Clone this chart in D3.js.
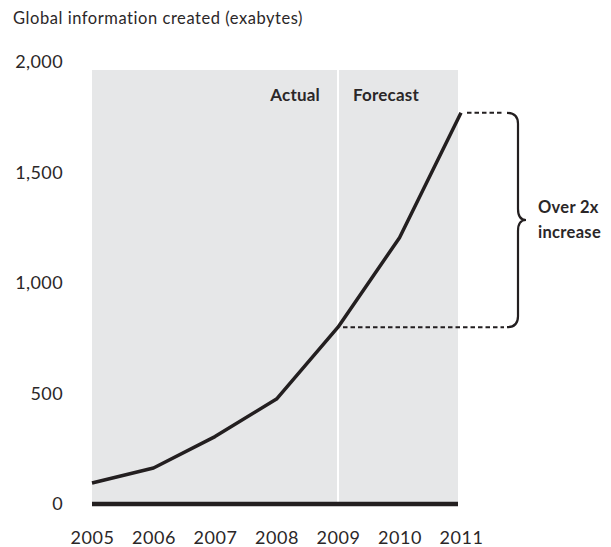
<!DOCTYPE html>
<html>
<head>
<meta charset="utf-8">
<script src="https://cdn.jsdelivr.net/npm/d3@7"></script>
<style>
  html, body { margin: 0; padding: 0; background: #fff; }
  svg { display: block; }
  text { font-family: Lato, "Open Sans", sans-serif; fill: #2b2728; }
</style>
</head>
<body>
<svg id="chart" width="611" height="547"></svg>
<script>
// Global information created, exabytes (2005–2008 actual, 2009–2011 forecast)
const years = [2005, 2006, 2007, 2008, 2009, 2010, 2011];
const exabytes = [95, 163, 305, 475, 800, 1205, 1770];
const yTicks = [0, 500, 1000, 1500, 2000];
const title = "Global information created (exabytes)";
const phaseLabels = ["Actual", "Forecast"];
const forecastStart = 2009;
const noteLines = ["Over 2x", "increase"];

const ink = "#231f20";
const textInk = "#2b2728";
const svg = d3.select("#chart");

const x = d3.scalePoint().domain(years).range([92, 461]);
const y = d3.scaleLinear().domain([0, 2000]).range([504, 62]);

// Title
svg.append("text")
  .attr("x", 13).attr("y", 24)
  .attr("font-size", 16.5)
  .attr("letter-spacing", 0.55)
  .text(title);

// Shaded plot region
const shadeTop = 70;
svg.append("rect")
  .attr("x", x(2005)).attr("y", shadeTop)
  .attr("width", x(2011) - 3 - x(2005))
  .attr("height", y(0) - shadeTop)
  .attr("fill", "#e6e7e8");

// Divider between actual and forecast
svg.append("line")
  .attr("x1", x(forecastStart)).attr("x2", x(forecastStart))
  .attr("y1", shadeTop).attr("y2", y(0))
  .attr("stroke", "#fff").attr("stroke-width", 2);

svg.append("text")
  .attr("x", x(forecastStart) - 18).attr("y", 101)
  .attr("text-anchor", "end")
  .attr("font-size", 17).attr("font-weight", 700)
  .attr("letter-spacing", 0.2)
  .text(phaseLabels[0]);
svg.append("text")
  .attr("x", x(forecastStart) + 15).attr("y", 101)
  .attr("font-size", 17).attr("font-weight", 700)
  .attr("letter-spacing", 0.2)
  .text(phaseLabels[1]);

// Y axis (labels only)
const yAxis = d3.axisLeft(y).tickValues(yTicks)
  .tickFormat(d3.format(",")).tickSize(0).tickPadding(0);
svg.append("g")
  .attr("transform", "translate(63,0)")
  .call(yAxis)
  .call(g => g.select(".domain").remove())
  .call(g => g.selectAll("text")
    .attr("font-size", 18)
    .attr("letter-spacing", 0.4)
    .attr("font-family", "Lato, 'Open Sans', sans-serif")
    .attr("fill", textInk));

// X axis (labels only)
const xAxis = d3.axisBottom(x).tickSize(0).tickPadding(0).tickFormat(d3.format("d"));
svg.append("g")
  .attr("transform", "translate(0,531)")
  .call(xAxis)
  .call(g => g.select(".domain").remove())
  .call(g => g.selectAll("text")
    .attr("font-size", 18)
    .attr("letter-spacing", 0.6)
    .attr("font-family", "Lato, 'Open Sans', sans-serif")
    .attr("fill", textInk));

// Baseline
svg.append("line")
  .attr("x1", x(2005)).attr("x2", x(2011) - 3)
  .attr("y1", y(0)).attr("y2", y(0))
  .attr("stroke", ink).attr("stroke-width", 4.5);

// Data line
const data = years.map((yr, i) => ({ yr, v: exabytes[i] }));
svg.append("path")
  .datum(data)
  .attr("fill", "none")
  .attr("stroke", ink)
  .attr("stroke-width", 3.5)
  .attr("stroke-linejoin", "round")
  .attr("d", d3.line().x(d => x(d.yr)).y(d => y(d.v)));

// Dashed guides from 2009 and 2011 values to the brace
const braceX = 510;
const vStart = exabytes[years.indexOf(forecastStart)];
const vEnd = exabytes[years.length - 1];
[[x(forecastStart) + 5, vStart], [x(2011) + 6, vEnd]].forEach(([x0, v]) => {
  svg.append("line")
    .attr("x1", x0).attr("x2", braceX - 6)
    .attr("y1", y(v)).attr("y2", y(v))
    .attr("stroke", ink).attr("stroke-width", 2)
    .attr("stroke-dasharray", "4.5,3");
});

// Curly brace spanning the increase
const yT = y(vEnd), yB = y(vStart), yM = (yT + yB) / 2;
const bx = braceX, tip = 16, r = 8;
const brace = d3.path();
brace.moveTo(bx - 3, yT);
brace.quadraticCurveTo(bx + r, yT, bx + r, yT + r + 3);
brace.lineTo(bx + r, yM - r - 3);
brace.quadraticCurveTo(bx + r, yM, bx + tip, yM);
brace.quadraticCurveTo(bx + r, yM, bx + r, yM + r + 3);
brace.lineTo(bx + r, yB - r - 3);
brace.quadraticCurveTo(bx + r, yB, bx - 3, yB);
svg.append("path")
  .attr("d", brace.toString())
  .attr("fill", "none")
  .attr("stroke", ink)
  .attr("stroke-width", 2.2);

svg.append("g")
  .selectAll("text")
  .data(noteLines)
  .join("text")
  .attr("x", 538)
  .attr("y", (d, i) => yM - 7 + i * 25)
  .attr("font-size", 16.5).attr("font-weight", 700)
  .attr("letter-spacing", 0.3)
  .text(d => d);
</script>
</body>
</html>
